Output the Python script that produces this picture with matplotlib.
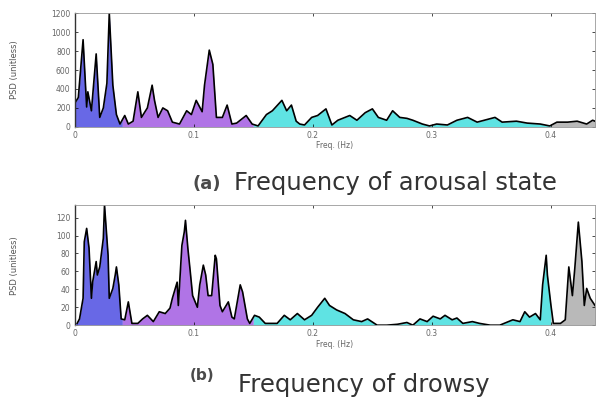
import numpy as np
import matplotlib
matplotlib.use("Agg")
import matplotlib.pyplot as plt

# arousal state PSD
freqA = [0.000, 0.003, 0.007, 0.010, 0.011, 0.014, 0.018, 0.021, 0.024, 0.027,
         0.029, 0.032, 0.035, 0.038, 0.042, 0.045, 0.049, 0.053, 0.056, 0.061,
         0.065, 0.067, 0.070, 0.074, 0.078, 0.082, 0.088, 0.094, 0.098, 0.102,
         0.107, 0.109, 0.113, 0.116, 0.119, 0.124, 0.128, 0.132, 0.136, 0.144,
         0.149, 0.154, 0.161, 0.166, 0.174, 0.178, 0.182, 0.186, 0.189, 0.193,
         0.199, 0.204, 0.211, 0.216, 0.221, 0.231, 0.237, 0.244, 0.250, 0.255,
         0.262, 0.267, 0.273, 0.279, 0.284, 0.292, 0.298, 0.304, 0.313, 0.321,
         0.330, 0.338, 0.344, 0.353, 0.359, 0.371, 0.380, 0.391, 0.399, 0.405,
         0.414, 0.422, 0.430, 0.435, 0.437]
psdA = [250, 310, 920, 210, 370, 170, 770, 100, 200, 460,
        1200, 440, 130, 30, 120, 30, 60, 370, 100, 200,
        440, 280, 100, 200, 170, 50, 30, 170, 130, 280,
        160, 440, 810, 660, 100, 100, 230, 30, 40, 120,
        30, 10, 130, 170, 280, 170, 230, 60, 30, 20,
        100, 120, 190, 20, 70, 120, 70, 150, 190, 100,
        70, 170, 100, 90, 70, 30, 10, 30, 20, 70,
        100, 50, 70, 100, 50, 60, 40, 30, 10, 50,
        50, 60, 30, 70, 60]

# drowsy PSD
freqB = [0.002, 0.004, 0.007, 0.008, 0.010, 0.012, 0.014, 0.015, 0.018, 0.019,
         0.021, 0.024, 0.025, 0.028, 0.029, 0.032, 0.034, 0.035, 0.037, 0.039,
         0.042, 0.045, 0.048, 0.053, 0.057, 0.061, 0.066, 0.071, 0.076, 0.080,
         0.082, 0.086, 0.087, 0.090, 0.092, 0.093, 0.095, 0.097, 0.099, 0.103,
         0.105, 0.108, 0.110, 0.112, 0.115, 0.118, 0.119, 0.122, 0.124, 0.129,
         0.132, 0.134, 0.139, 0.141, 0.145, 0.147, 0.151, 0.155, 0.160, 0.164,
         0.170, 0.176, 0.181, 0.187, 0.193, 0.199, 0.204, 0.210, 0.214, 0.220,
         0.227, 0.234, 0.241, 0.246, 0.254, 0.262, 0.271, 0.279, 0.284, 0.290,
         0.296, 0.301, 0.307, 0.311, 0.317, 0.321, 0.326, 0.334, 0.340, 0.349,
         0.357, 0.368, 0.374, 0.378, 0.382, 0.387, 0.391, 0.393, 0.396, 0.397,
         0.400, 0.402, 0.408, 0.412, 0.415, 0.418, 0.420, 0.423, 0.426, 0.428,
         0.430, 0.433, 0.437]
psdB = [2, 7, 30, 93, 108, 86, 30, 48, 71, 56,
        65, 97, 134, 78, 30, 41, 56, 65, 45, 7,
        6, 26, 2, 2, 7, 11, 4, 15, 13, 19,
        30, 48, 22, 89, 104, 117, 86, 60, 33, 20,
        45, 67, 56, 33, 33, 78, 74, 22, 15, 26,
        9, 7, 45, 37, 7, 2, 11, 9, 2, 2,
        2, 11, 6, 13, 6, 11, 20, 30, 22, 17,
        13, 6, 4, 7, 0, 0, 1, 3, 0, 7,
        4, 10, 7, 11, 6, 8, 2, 4, 2, 0,
        0, 6, 4, 15, 9, 13, 6, 45, 78, 56,
        22, 2, 2, 6, 65, 33, 63, 115, 71, 22,
        41, 30, 22]

bands = [(0.0, 0.04, "#6868e6"), (0.04, 0.15, "#b074e6"),
         (0.15, 0.40, "#5fe3e3"), (0.40, 0.44, "#b9b9b9")]
captionA = "Frequency of arousal state"
captionB = "Frequency of drowsy"


def drawPanel(ax, f, p, ymax, yticks):
	f = np.array(f)
	p = np.array(p)
	for lo, hi, col in bands:
		m = (f > lo) & (f < hi)
		fx = np.concatenate([[lo], f[m], [hi]])
		py = np.concatenate([[np.interp(lo, f, p)], p[m], [np.interp(hi, f, p)]])
		ax.fill_between(fx, 0, py, color=col, linewidth=0)
	ax.plot(f, p, color="black", lw=1.2)
	ax.set_xlim(0, 0.437)
	ax.set_ylim(0, ymax)
	ax.set_xticks([0, 0.1, 0.2, 0.3, 0.4])
	ax.set_xticklabels(["0", "0.1", "0.2", "0.3", "0.4"])
	ax.set_yticks(yticks)
	ax.tick_params(direction="in", length=2.5, width=0.5, labelsize=5.5,
	               labelcolor="#666666", top=True, right=True, pad=3)
	for s in ["top", "right", "bottom"]:
		ax.spines[s].set_color("#999999")
		ax.spines[s].set_linewidth(0.6)
	ax.spines["left"].set_color("#333333")
	ax.spines["left"].set_linewidth(1.0)
	ax.set_xlabel("Freq. (Hz)", fontsize=5.5, color="#666666", labelpad=1)
	ax.set_ylabel("PSD (unitless)", fontsize=6, color="#555555")
	ax.yaxis.set_label_coords(-0.108, 0.5)


def caption(tag, tagx, tagbase, tagsize, text, x, base):
	fig.text(tagx / 598, 1 - tagbase / 399, tag, fontsize=tagsize, fontweight="bold",
	         color="#4a4a4a", family="DejaVu Sans", va="baseline")
	fig.text(x / 598, 1 - base / 399, text, fontsize=17.5,
	         color="#333333", family="DejaVu Sans", va="baseline")


fig = plt.figure(figsize=(5.98, 3.99), dpi=100)
ax1 = fig.add_axes([0.125, 0.682, 0.87, 0.285])
ax2 = fig.add_axes([0.125, 0.185, 0.87, 0.301])
drawPanel(ax1, freqA, psdA, 1200, [0, 200, 400, 600, 800, 1000, 1200])
drawPanel(ax2, freqB, psdB, 134, [0, 20, 40, 60, 80, 100, 120])

caption("(a)", 192, 189, 13, captionA, 234, 190)
caption("(b)", 190, 380, 11, captionB, 238, 392)

fig.savefig("out.png", dpi=100)
